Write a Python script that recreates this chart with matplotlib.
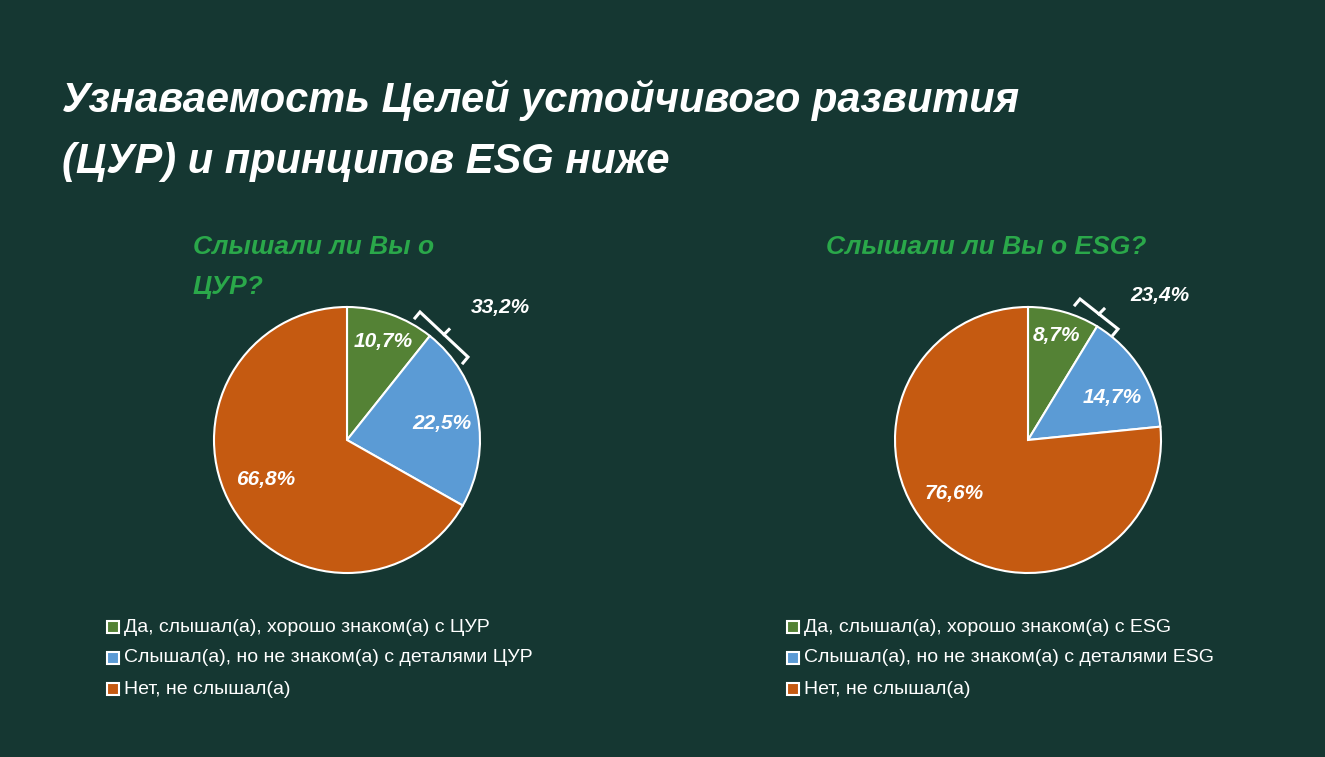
import matplotlib.pyplot as plt
from matplotlib.patches import Rectangle

# data
cats_sdg = ['Да, слышал(а), хорошо знаком(а) с ЦУР',
            'Слышал(а), но не знаком(а) с деталями ЦУР',
            'Нет, не слышал(а)']
cats_esg = ['Да, слышал(а), хорошо знаком(а) с ESG',
            'Слышал(а), но не знаком(а) с деталями ESG',
            'Нет, не слышал(а)']
vals_sdg = [10.7, 22.5, 66.8]
vals_esg = [8.7, 14.7, 76.6]
sum_sdg = '33,2%'
sum_esg = '23,4%'

colors = ['#548235', '#5b9bd5', '#c55a11']
bg = '#153732'
W, H = 1325, 757

plt.rcParams['font.family'] = ['Liberation Sans', 'DejaVu Sans']
fig = plt.figure(figsize=(W / 100, H / 100), dpi=100, facecolor=bg)
ax = fig.add_axes([0, 0, 1, 1])
ax.set_xlim(0, W)
ax.set_ylim(0, H)
ax.set_aspect('equal')
ax.axis('off')

def Y(py):
    return H - py

fig.text(62 / W, 1 - 100 / H, 'Узнаваемость Целей устойчивого развития',
         color='white', fontsize=30, fontweight='bold', style='italic', va='center')
fig.text(62 / W, 1 - 162 / H, '(ЦУР) и принципов ESG ниже',
         color='white', fontsize=30, fontweight='bold', style='italic', va='center')

green_t = '#2aa84a'
ax.text(193, Y(247), 'Слышали ли Вы о', color=green_t, fontsize=19,
        fontweight='bold', style='italic', va='center')
ax.text(193, Y(287), 'ЦУР?', color=green_t, fontsize=19,
        fontweight='bold', style='italic', va='center')
ax.text(826, Y(247), 'Слышали ли Вы о ESG?', color=green_t, fontsize=19,
        fontweight='bold', style='italic', va='center')

def draw(cx, vals, cats, label_pos, total, total_pos, bracket, legend_x):
    ax.pie(vals, colors=colors, startangle=90, counterclock=False,
           center=(cx, Y(440)), radius=133, frame=True,
           wedgeprops=dict(edgecolor='white', linewidth=1.5))
    for v, (px, py) in zip(vals, label_pos):
        ax.text(px, Y(py), f'{v:.1f}%'.replace('.', ','), color='white',
                fontsize=15, fontweight='bold', style='italic',
                ha='center', va='center')
    ax.text(total_pos[0], Y(total_pos[1]), total, color='white', fontsize=15,
            fontweight='bold', style='italic', ha='center', va='center')
    (x1, y1), (x2, y2), (hx, hy), (mx, my) = bracket
    ax.plot([x1 + hx, x1, x2, x2 + hx], [Y(y1 + hy), Y(y1), Y(y2), Y(y2 + hy)],
            color='white', lw=2.2, solid_joinstyle='miter')
    midx, midy = (x1 + x2) / 2, (y1 + y2) / 2
    ax.plot([midx, midx + mx], [Y(midy), Y(midy + my)], color='white', lw=2.2)
    for i, (c, lab) in enumerate(zip(cats, [0, 1, 2])):
        py = 627 + i * 31
        ax.add_patch(Rectangle((legend_x, Y(py) - 6), 12, 12, facecolor=colors[i],
                               edgecolor='white', lw=1.5))
        ax.text(legend_x + 17, Y(py), c, color='white', fontsize=14, va='center')

draw(347, vals_sdg, cats_sdg, [(383, 341), (442, 424), (266, 480)],
     sum_sdg, (500, 308), [(420, 312), (468, 357), (-5, 6), (5, -5)], 107)
draw(1028, vals_esg, cats_esg, [(1056, 335), (1112, 397), (954, 494)],
     sum_esg, (1160, 296), [(1080, 299), (1118, 329), (-5, 6), (5, -5)], 787)

ax.set_xlim(0, W)
ax.set_ylim(0, H)
ax.axis('off')
fig.savefig('out.png', dpi=100, facecolor=bg)
